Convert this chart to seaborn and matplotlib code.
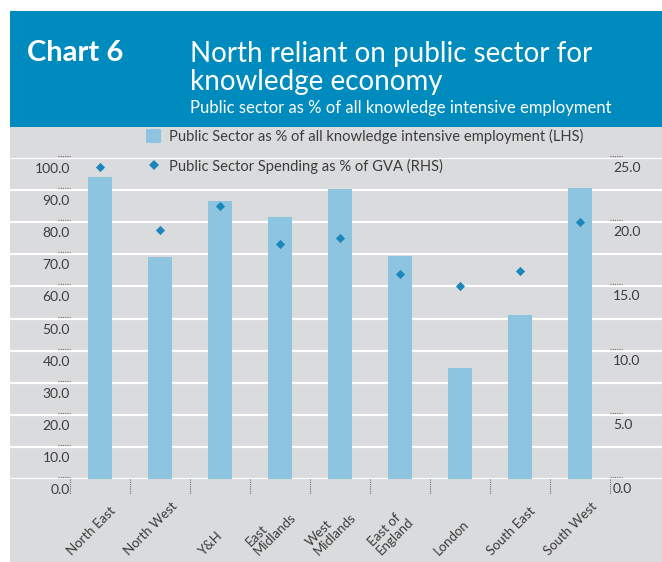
import numpy as np
import pandas as pd
import matplotlib
matplotlib.use("Agg")
import matplotlib.pyplot as plt
import matplotlib.transforms as mtransforms
from matplotlib.patches import Rectangle, Patch
from matplotlib.lines import Line2D
import seaborn as sns

# ---- data ----
regions = ["North East", "North West", "Y&H", "East\nMidlands", "West\nMidlands",
           "East of\nEngland", "London", "South East", "South West"]
knowledge_share = [94.0, 69.2, 86.6, 81.6, 90.3, 69.5, 34.6, 51.1, 90.6]   # LHS, %
spending_gva = [24.3, 19.4, 21.3, 18.3, 18.8, 16.0, 15.0, 16.2, 20.0]      # RHS, %
lhs_ticks = [0, 10, 20, 30, 40, 50, 60, 70, 80, 90, 100]
rhs_ticks = [0, 5, 10, 15, 20, 25]

bar_label = "Public Sector as % of all knowledge intensive employment (LHS)"
dot_label = "Public Sector Spending as % of GVA (RHS)"

# ---- style ----
BLUE = "#008BBE"
GREY = "#DADBDD"
BAR = "#8DC5E1"
DOT = "#1A86BC"
TXT = "#3C3C3C"
TICK = "#6E6E6E"

sns.set_theme(style="white")
plt.rcParams["font.family"] = ["Lato", "DejaVu Sans"]

W, H = 662, 562
fig = plt.figure(figsize=(W / 100, H / 100), dpi=100, facecolor="white")


def fx(px):
    return px / W


def fy(py):
    return 1 - py / H


# background panel and header band
fig.patches.append(Rectangle((fx(10), 0), 1 - fx(10), fy(127), transform=fig.transFigure,
                             facecolor=GREY, edgecolor="none", zorder=-10))
fig.patches.append(Rectangle((fx(10), fy(127)), 1 - fx(10), fy(11) - fy(127),
                             transform=fig.transFigure, facecolor=BLUE, edgecolor="none",
                             zorder=-10))

fig.text(fx(27), fy(61), "Chart 6", color="white", fontsize=21, fontweight="bold",
         va="baseline", ha="left")
fig.text(fx(190), fy(62), "North reliant on public sector for", color="white",
         fontsize=20, fontweight="normal", va="baseline", ha="left")
fig.text(fx(190), fy(90), "knowledge economy", color="white",
         fontsize=20, fontweight="normal", va="baseline", ha="left")
fig.text(fx(190), fy(113), "Public sector as % of all knowledge intensive employment",
         color="white", fontsize=12, fontweight="normal", va="baseline", ha="left")

# ---- plot area ----
ax = fig.add_axes([fx(10), fy(479), 1 - fx(10), fy(158) - fy(479)])
ax.set_facecolor("none")
for t in lhs_ticks:
    ax.axhline(t, color="white", lw=1.6, zorder=0)

df = pd.DataFrame({"region": regions, "share": knowledge_share, "gva": spending_gva})
sns.barplot(data=df, x="region", y="share", ax=ax, color=BAR, saturation=1,
            width=0.4, linewidth=0, edgecolor="none", zorder=2)

XMIN, XMAX = -1.5, 8.5 + 52 / 60
ax.set_xlim(XMIN, XMAX)
ax.set_ylim(0, 100)
ax.set_xticks([])
ax.set_yticks([])
ax.set_xlabel("")
ax.set_ylabel("")
for s in ax.spines.values():
    s.set_visible(False)

ax2 = ax.twinx()
sns.stripplot(data=df, x="region", y="gva", ax=ax2, color=DOT, marker="D", size=4.7,
              jitter=False, linewidth=0, zorder=3)
ax2.set_ylim(0, 25)
ax2.set_xlim(XMIN, XMAX)
ax2.set_xticks([])
ax2.set_yticks([])
ax2.set_xlabel("")
ax2.set_ylabel("")
for s in ax2.spines.values():
    s.set_visible(False)

# tick labels below each gridline
lab_off = mtransforms.offset_copy(ax.transData, fig=fig, x=0, y=-11, units="dots")
for t in lhs_ticks:
    ax.text(-0.5, t, f"{t:.1f}", ha="right", va="center", fontsize=10, color=TXT,
            transform=lab_off, clip_on=False)
lab_off2 = mtransforms.offset_copy(ax2.transData, fig=fig, x=0, y=-10, units="dots")
for t in rhs_ticks:
    ax2.text(8.5 + 3 / 60, t, f"{t:.1f}", ha="left", va="center", fontsize=10, color=TXT,
             transform=lab_off2, clip_on=False)

# small dotted tick marks on both value axes
dot_off = mtransforms.offset_copy(ax.transData, fig=fig, x=0, y=2, units="dots")
for t in lhs_ticks:
    ax.plot([-0.5 - 12 / 60, -0.5], [t, t], color=TICK, lw=0.8, ls=(0, (1, 1)),
            transform=dot_off, clip_on=False, zorder=4)
dot_off2 = mtransforms.offset_copy(ax2.transData, fig=fig, x=0, y=2, units="dots")
for t in rhs_ticks:
    ax2.plot([8.5, 8.5 + 12 / 60], [t, t], color=TICK, lw=0.8, ls=(0, (1, 1)),
             transform=dot_off2, clip_on=False, zorder=4)

# category separators under the axis
for x in np.arange(-0.5, len(regions), 1.0):
    ax.plot([x, x], [0, -4.8], color=TICK, lw=0.8, ls=(0, (1, 1)), clip_on=False, zorder=4)

# rotated category labels
lab_tr = mtransforms.blended_transform_factory(ax.transData, fig.transFigure)
for i, name in enumerate(regions):
    ax.text(i - 9 / 60, fy(557), name, rotation=45, ha="center", va="bottom",
            multialignment="left", fontsize=9.5, color=TXT, transform=lab_tr,
            clip_on=False, linespacing=1.0)

# legend
handles = [Patch(facecolor=BAR, edgecolor="none"),
           Line2D([], [], marker="D", ls="", color=DOT, markersize=4.7, markeredgewidth=0)]
fig.legend(handles, [bar_label, dot_label], loc="upper left",
           bbox_to_anchor=(fx(146), fy(129)), frameon=False, fontsize=10.6,
           labelcolor=TXT, handlelength=1.05, handleheight=1.1, handletextpad=0.5,
           labelspacing=1.0, borderpad=0, borderaxespad=0)

fig.savefig("out.png", dpi=100, facecolor="white")
